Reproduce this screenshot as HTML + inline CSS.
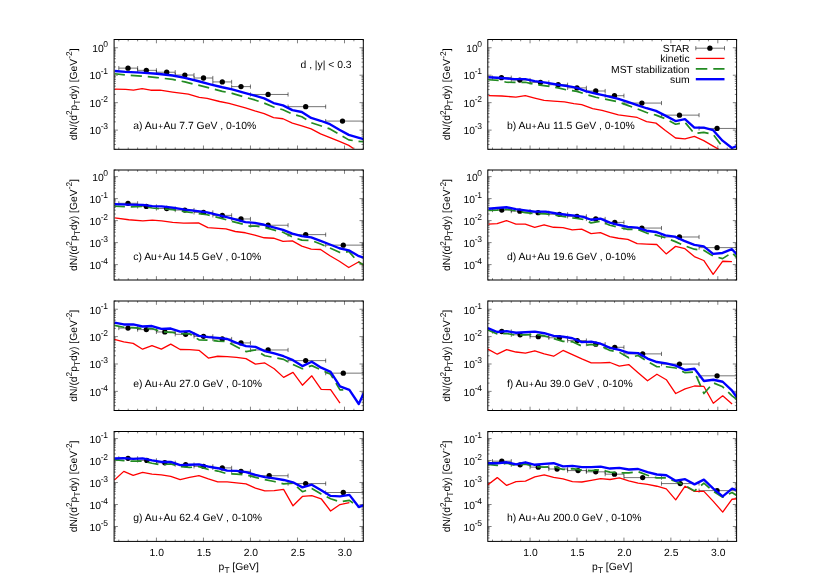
<!DOCTYPE html>
<html><head><meta charset="utf-8"><title>plot</title>
<style>html,body{margin:0;padding:0;background:#fff}body{width:830px;height:581px;overflow:hidden}</style></head>
<body>
<svg width="830" height="581" viewBox="0 0 830 581" style="display:block;will-change:transform;text-rendering:geometricPrecision;font-family:'Liberation Sans',sans-serif;font-size:10.35px" fill="#000">
<rect width="830" height="581" fill="#fff"/>
<defs>
<clipPath id="ca"><rect x="114.1" y="39.5" width="249.2" height="109.8"/></clipPath>
<clipPath id="cb"><rect x="487.8" y="39.5" width="248.8" height="109.8"/></clipPath>
<clipPath id="cc"><rect x="114.1" y="170" width="249.2" height="110"/></clipPath>
<clipPath id="cd"><rect x="487.8" y="170" width="248.8" height="110"/></clipPath>
<clipPath id="ce"><rect x="114.1" y="301" width="249.2" height="109.5"/></clipPath>
<clipPath id="cf"><rect x="487.8" y="301" width="248.8" height="109.5"/></clipPath>
<clipPath id="cg"><rect x="114.1" y="431.5" width="249.2" height="109.9"/></clipPath>
<clipPath id="ch"><rect x="487.8" y="431.5" width="248.8" height="109.9"/></clipPath>
</defs>
<g id="pa">
<path d="M118.8 149.3v-1.8M118.8 39.5v1.8M128.21 149.3v-1.8M128.21 39.5v1.8M137.61 149.3v-1.8M137.61 39.5v1.8M147.01 149.3v-1.8M147.01 39.5v1.8M156.42 149.3v-3.8M156.42 39.5v3.8M165.82 149.3v-1.8M165.82 39.5v1.8M175.22 149.3v-1.8M175.22 39.5v1.8M184.63 149.3v-1.8M184.63 39.5v1.8M194.03 149.3v-1.8M194.03 39.5v1.8M203.44 149.3v-3.8M203.44 39.5v3.8M212.84 149.3v-1.8M212.84 39.5v1.8M222.24 149.3v-1.8M222.24 39.5v1.8M231.65 149.3v-1.8M231.65 39.5v1.8M241.05 149.3v-1.8M241.05 39.5v1.8M250.45 149.3v-3.8M250.45 39.5v3.8M259.86 149.3v-1.8M259.86 39.5v1.8M269.26 149.3v-1.8M269.26 39.5v1.8M278.67 149.3v-1.8M278.67 39.5v1.8M288.07 149.3v-1.8M288.07 39.5v1.8M297.47 149.3v-3.8M297.47 39.5v3.8M306.88 149.3v-1.8M306.88 39.5v1.8M316.28 149.3v-1.8M316.28 39.5v1.8M325.68 149.3v-1.8M325.68 39.5v1.8M335.09 149.3v-1.8M335.09 39.5v1.8M344.49 149.3v-3.8M344.49 39.5v3.8M353.9 149.3v-1.8M353.9 39.5v1.8M363.3 149.3v-1.8M363.3 39.5v1.8M114.1 149.3h1.8M363.3 149.3h-1.8M114.1 144.47h1.8M363.3 144.47h-1.8M114.1 141.04h1.8M363.3 141.04h-1.8M114.1 138.38h1.8M363.3 138.38h-1.8M114.1 136.2h1.8M363.3 136.2h-1.8M114.1 134.37h1.8M363.3 134.37h-1.8M114.1 132.77h1.8M363.3 132.77h-1.8M114.1 131.37h1.8M363.3 131.37h-1.8M114.1 130.11h3.8M363.3 130.11h-3.8M114.1 121.85h1.8M363.3 121.85h-1.8M114.1 117.02h1.8M363.3 117.02h-1.8M114.1 113.59h1.8M363.3 113.59h-1.8M114.1 110.93h1.8M363.3 110.93h-1.8M114.1 108.75h1.8M363.3 108.75h-1.8M114.1 106.92h1.8M363.3 106.92h-1.8M114.1 105.32h1.8M363.3 105.32h-1.8M114.1 103.92h1.8M363.3 103.92h-1.8M114.1 102.66h3.8M363.3 102.66h-3.8M114.1 94.4h1.8M363.3 94.4h-1.8M114.1 89.57h1.8M363.3 89.57h-1.8M114.1 86.14h1.8M363.3 86.14h-1.8M114.1 83.48h1.8M363.3 83.48h-1.8M114.1 81.3h1.8M363.3 81.3h-1.8M114.1 79.47h1.8M363.3 79.47h-1.8M114.1 77.87h1.8M363.3 77.87h-1.8M114.1 76.47h1.8M363.3 76.47h-1.8M114.1 75.21h3.8M363.3 75.21h-3.8M114.1 66.95h1.8M363.3 66.95h-1.8M114.1 62.12h1.8M363.3 62.12h-1.8M114.1 58.69h1.8M363.3 58.69h-1.8M114.1 56.03h1.8M363.3 56.03h-1.8M114.1 53.85h1.8M363.3 53.85h-1.8M114.1 52.02h1.8M363.3 52.02h-1.8M114.1 50.42h1.8M363.3 50.42h-1.8M114.1 49.02h1.8M363.3 49.02h-1.8M114.1 47.76h3.8M363.3 47.76h-3.8M114.1 39.5h1.8M363.3 39.5h-1.8" stroke="#000" stroke-width="0.5" fill="none"/>
<g clip-path="url(#ca)" fill="none" stroke-linejoin="round">
<path d="M118.8 68.14h18.81M118.8 66.04v4.2M137.61 66.04v4.2M137.61 70.34h18.81M137.61 68.24v4.2M156.42 68.24v4.2M156.42 72.22h18.81M156.42 70.12v4.2M175.22 70.12v4.2M175.22 75.04h18.81M175.22 72.94v4.2M194.03 72.94v4.2M194.03 78.01h18.81M194.03 75.91v4.2M212.84 75.91v4.2M212.84 81.93h18.81M212.84 79.83v4.2M231.65 79.83v4.2M231.65 86.62h18.81M231.65 84.52v4.2M250.45 84.52v4.2M250.45 94.46h37.62M250.45 92.36v4.2M288.07 92.36v4.2M288.07 106.67h37.62M288.07 104.57v4.2M325.68 104.57v4.2M325.68 121.08h37.62M325.68 118.98v4.2M363.3 118.98v4.2" stroke="#000" stroke-width="0.55"/>
<circle cx="128.01" cy="68.14" r="2.65" fill="#000" stroke="none"/>
<circle cx="146.34" cy="70.34" r="2.65" fill="#000" stroke="none"/>
<circle cx="166.7" cy="72.22" r="2.65" fill="#000" stroke="none"/>
<circle cx="184.86" cy="75.04" r="2.65" fill="#000" stroke="none"/>
<circle cx="203.5" cy="78.01" r="2.65" fill="#000" stroke="none"/>
<circle cx="222.29" cy="81.93" r="2.65" fill="#000" stroke="none"/>
<circle cx="241.01" cy="86.62" r="2.65" fill="#000" stroke="none"/>
<circle cx="268.11" cy="94.46" r="2.65" fill="#000" stroke="none"/>
<circle cx="305.69" cy="106.67" r="2.65" fill="#000" stroke="none"/>
<circle cx="342.5" cy="121.08" r="2.65" fill="#000" stroke="none"/>
<path d="M114.7 89.13 L125.66 89.44 L133.49 90.07 L142.11 88.66 L150.72 90.23 L160.12 90.23 L172.65 92.11 L188.31 94.14 L199.27 97.27 L207.1 98.37 L219.63 101.5 L229.03 103.38 L245.4 107.77 L254.79 110.9 L264.19 113.56 L273.59 117.64 L282.99 118.73 L292.38 123.12 L301.78 125.78 L311.18 128.91 L320.57 133.92 L329.97 137.53 L339.37 141.44 L348.76 145.36 L353.46 148.49" stroke="#ff0000" stroke-width="1.3"/>
<path d="M114.7 73.78 L125.66 75.04 L141.32 76.13 L156.99 77.54 L172.65 79.42 L184.86 81.93 L197.71 85.06 L210.23 88.19 L222.29 91.32 L232.16 93.36 L245.4 97.27 L254.79 99.94 L264.19 103.07 L273.59 106.99 L282.99 109.8 L292.38 114.03 L301.78 116.7 L311.18 122.65 L320.57 125.78 L329.97 128.91 L339.37 134.39 L348.76 139.87 L358.16 141.44 L363.64 141.75" stroke="#228b22" stroke-width="1.7" stroke-dasharray="11.2 5.9" stroke-dashoffset="1"/>
<path d="M114.7 70.96 L125.66 71.9 L141.32 72.69 L156.99 73.78 L172.65 75.51 L184.86 77.85 L197.71 80.99 L210.23 84.28 L222.29 87.25 L232.16 89.44 L245.4 93.2 L254.79 95.71 L264.19 98.37 L273.59 103.07 L282.99 105.42 L292.38 110.12 L301.78 112 L311.18 117.95 L320.57 120.77 L329.97 124.21 L339.37 129.69 L348.76 134.86 L358.16 137.53 L363.64 139.09" stroke="#0000ff" stroke-width="2.35"/>
</g>
<rect x="114.1" y="39.5" width="249.2" height="109.8" fill="none" stroke="#000" stroke-width="1"/>
<text x="107.6" y="51.76" text-anchor="end">10<tspan dy="-4.9" dx="-0.5" font-size="8.5" letter-spacing="-0.3">0</tspan></text>
<text x="107.6" y="79.21" text-anchor="end">10<tspan dy="-4.9" dx="-0.5" font-size="8.5" letter-spacing="-0.3">-1</tspan></text>
<text x="107.6" y="106.66" text-anchor="end">10<tspan dy="-4.9" dx="-0.5" font-size="8.5" letter-spacing="-0.3">-2</tspan></text>
<text x="107.6" y="134.11" text-anchor="end">10<tspan dy="-4.9" dx="-0.5" font-size="8.5" letter-spacing="-0.3">-3</tspan></text>
<text transform="translate(76.6 94.4) rotate(-90)" text-anchor="middle">dN/(d<tspan dy="-4.6" font-size="8.3">2</tspan><tspan dy="4.6">p</tspan><tspan dy="3.1" font-size="8.3">T</tspan><tspan dy="-3.1">dy) [GeV</tspan><tspan dy="-4.6" font-size="8.3">-2</tspan><tspan dy="4.6">]</tspan></text>
<text x="133.2" y="129" font-size="10.42">a) Au<tspan font-size="8.2" dx="0.65" dy="-0.3">+</tspan><tspan dx="0.65" dy="0.3">Au</tspan> 7.7 GeV , 0-10%</text>
<text x="351.6" y="67.5" text-anchor="end">d , |y| &lt; 0.3</text>
</g>
<g id="pb">
<path d="M492.49 149.3v-1.8M492.49 39.5v1.8M501.88 149.3v-1.8M501.88 39.5v1.8M511.27 149.3v-1.8M511.27 39.5v1.8M520.66 149.3v-1.8M520.66 39.5v1.8M530.05 149.3v-3.8M530.05 39.5v3.8M539.44 149.3v-1.8M539.44 39.5v1.8M548.83 149.3v-1.8M548.83 39.5v1.8M558.22 149.3v-1.8M558.22 39.5v1.8M567.6 149.3v-1.8M567.6 39.5v1.8M576.99 149.3v-3.8M576.99 39.5v3.8M586.38 149.3v-1.8M586.38 39.5v1.8M595.77 149.3v-1.8M595.77 39.5v1.8M605.16 149.3v-1.8M605.16 39.5v1.8M614.55 149.3v-1.8M614.55 39.5v1.8M623.94 149.3v-3.8M623.94 39.5v3.8M633.32 149.3v-1.8M633.32 39.5v1.8M642.71 149.3v-1.8M642.71 39.5v1.8M652.1 149.3v-1.8M652.1 39.5v1.8M661.49 149.3v-1.8M661.49 39.5v1.8M670.88 149.3v-3.8M670.88 39.5v3.8M680.27 149.3v-1.8M680.27 39.5v1.8M689.66 149.3v-1.8M689.66 39.5v1.8M699.05 149.3v-1.8M699.05 39.5v1.8M708.43 149.3v-1.8M708.43 39.5v1.8M717.82 149.3v-3.8M717.82 39.5v3.8M727.21 149.3v-1.8M727.21 39.5v1.8M736.6 149.3v-1.8M736.6 39.5v1.8M487.8 149.3h1.8M736.6 149.3h-1.8M487.8 144.47h1.8M736.6 144.47h-1.8M487.8 141.04h1.8M736.6 141.04h-1.8M487.8 138.38h1.8M736.6 138.38h-1.8M487.8 136.2h1.8M736.6 136.2h-1.8M487.8 134.37h1.8M736.6 134.37h-1.8M487.8 132.77h1.8M736.6 132.77h-1.8M487.8 131.37h1.8M736.6 131.37h-1.8M487.8 130.11h3.8M736.6 130.11h-3.8M487.8 121.85h1.8M736.6 121.85h-1.8M487.8 117.02h1.8M736.6 117.02h-1.8M487.8 113.59h1.8M736.6 113.59h-1.8M487.8 110.93h1.8M736.6 110.93h-1.8M487.8 108.75h1.8M736.6 108.75h-1.8M487.8 106.92h1.8M736.6 106.92h-1.8M487.8 105.32h1.8M736.6 105.32h-1.8M487.8 103.92h1.8M736.6 103.92h-1.8M487.8 102.66h3.8M736.6 102.66h-3.8M487.8 94.4h1.8M736.6 94.4h-1.8M487.8 89.57h1.8M736.6 89.57h-1.8M487.8 86.14h1.8M736.6 86.14h-1.8M487.8 83.48h1.8M736.6 83.48h-1.8M487.8 81.3h1.8M736.6 81.3h-1.8M487.8 79.47h1.8M736.6 79.47h-1.8M487.8 77.87h1.8M736.6 77.87h-1.8M487.8 76.47h1.8M736.6 76.47h-1.8M487.8 75.21h3.8M736.6 75.21h-3.8M487.8 66.95h1.8M736.6 66.95h-1.8M487.8 62.12h1.8M736.6 62.12h-1.8M487.8 58.69h1.8M736.6 58.69h-1.8M487.8 56.03h1.8M736.6 56.03h-1.8M487.8 53.85h1.8M736.6 53.85h-1.8M487.8 52.02h1.8M736.6 52.02h-1.8M487.8 50.42h1.8M736.6 50.42h-1.8M487.8 49.02h1.8M736.6 49.02h-1.8M487.8 47.76h3.8M736.6 47.76h-3.8M487.8 39.5h1.8M736.6 39.5h-1.8" stroke="#000" stroke-width="0.5" fill="none"/>
<g clip-path="url(#cb)" fill="none" stroke-linejoin="round">
<path d="M492.49 77.7h18.78M492.49 75.6v4.2M511.27 75.6v4.2M511.27 80.05h18.78M511.27 77.95v4.2M530.05 77.95v4.2M530.05 82.4h18.78M530.05 80.3v4.2M548.83 80.3v4.2M548.83 84.75h18.78M548.83 82.65v4.2M567.6 82.65v4.2M567.6 87.88h18.78M567.6 85.78v4.2M586.38 85.78v4.2M586.38 91.01h18.78M586.38 88.91v4.2M605.16 88.91v4.2M605.16 95.71h18.78M605.16 93.61v4.2M623.94 93.61v4.2M623.94 103.07h37.55M623.94 100.97v4.2M661.49 100.97v4.2M661.49 115.13h37.55M661.49 113.03v4.2M699.05 113.03v4.2M699.05 128.44h37.55M699.05 126.34v4.2M736.6 126.34v4.2" stroke="#000" stroke-width="0.55"/>
<circle cx="501.48" cy="77.7" r="2.65" fill="#000" stroke="none"/>
<circle cx="519.81" cy="80.05" r="2.65" fill="#000" stroke="none"/>
<circle cx="540.48" cy="82.4" r="2.65" fill="#000" stroke="none"/>
<circle cx="558.18" cy="84.75" r="2.65" fill="#000" stroke="none"/>
<circle cx="576.97" cy="87.88" r="2.65" fill="#000" stroke="none"/>
<circle cx="595.76" cy="91.01" r="2.65" fill="#000" stroke="none"/>
<circle cx="614.48" cy="95.71" r="2.65" fill="#000" stroke="none"/>
<circle cx="641.89" cy="103.07" r="2.65" fill="#000" stroke="none"/>
<circle cx="679.48" cy="115.13" r="2.65" fill="#000" stroke="none"/>
<circle cx="717.07" cy="128.44" r="2.65" fill="#000" stroke="none"/>
<path d="M488.48 95.71 L501.79 96.02 L515.89 97.12 L525.29 95.71 L534.68 98.06 L544.08 100.41 L553.48 101.03 L564.44 101.97 L573.84 103.54 L581.67 104.64 L592.63 108.55 L602.03 110.43 L618.4 114.82 L627.79 116.07 L637.19 117.48 L646.59 121.55 L655.99 123.12 L665.38 130.48 L675.56 138 L684.96 138.78 L694.36 136.43 L703.75 140.66 L713.15 146.14 L718.63 149.27" stroke="#ff0000" stroke-width="1.3"/>
<path d="M488.48 79.73 L498.66 80.36 L506.49 82.24 L514.32 82.4 L525.29 82.24 L534.68 84.28 L545.65 85.84 L558.18 87.88 L566.01 89.76 L576.97 91.32 L586.37 94.46 L595.76 97.27 L605.16 99.15 L618.4 101.97 L627.79 105.42 L637.19 108.86 L646.59 112.47 L655.99 115.13 L665.38 118.73 L675.56 124.21 L684.96 122.33 L694.36 133.61 L703.75 132.36 L713.15 134.39 L722.55 146.92" stroke="#228b22" stroke-width="1.7" stroke-dasharray="11.2 5.9" stroke-dashoffset="1"/>
<path d="M488.48 77.23 L501.48 78.01 L514.32 79.11 L525.29 79.11 L534.68 81.14 L545.65 82.71 L558.18 84.75 L570.71 86.62 L576.97 87.88 L586.37 91.32 L595.76 93.67 L605.16 95.71 L618.4 98.84 L627.79 101.97 L637.19 105.11 L646.59 108.24 L655.99 110.9 L665.38 115.6 L675.56 121.08 L684.96 119.2 L694.36 127.66 L703.75 127.66 L713.15 130.16 L722.55 140.66 L731.94 148.02 L736.64 146.14" stroke="#0000ff" stroke-width="2.35"/>
</g>
<rect x="487.8" y="39.5" width="248.8" height="109.8" fill="none" stroke="#000" stroke-width="1"/>
<text x="481.6" y="51.76" text-anchor="end">10<tspan dy="-4.9" dx="-0.5" font-size="8.5" letter-spacing="-0.3">0</tspan></text>
<text x="481.6" y="79.21" text-anchor="end">10<tspan dy="-4.9" dx="-0.5" font-size="8.5" letter-spacing="-0.3">-1</tspan></text>
<text x="481.6" y="106.66" text-anchor="end">10<tspan dy="-4.9" dx="-0.5" font-size="8.5" letter-spacing="-0.3">-2</tspan></text>
<text x="481.6" y="134.11" text-anchor="end">10<tspan dy="-4.9" dx="-0.5" font-size="8.5" letter-spacing="-0.3">-3</tspan></text>
<text transform="translate(450.3 94.4) rotate(-90)" text-anchor="middle">dN/(d<tspan dy="-4.6" font-size="8.3">2</tspan><tspan dy="4.6">p</tspan><tspan dy="3.1" font-size="8.3">T</tspan><tspan dy="-3.1">dy) [GeV</tspan><tspan dy="-4.6" font-size="8.3">-2</tspan><tspan dy="4.6">]</tspan></text>
<text x="506.9" y="129" font-size="10.42">b) Au<tspan font-size="8.2" dx="0.65" dy="-0.3">+</tspan><tspan dx="0.65" dy="0.3">Au</tspan> 11.5 GeV , 0-10%</text>
<text x="689.6" y="51.9" text-anchor="end">STAR</text>
<text x="689.6" y="62.1" text-anchor="end">kinetic</text>
<text x="689.6" y="72.55" text-anchor="end">MST stabilization</text>
<text x="689.6" y="82.9" text-anchor="end">sum</text>
<path d="M695.8 48.2H724.5M695.8 46.1v4.2M724.5 46.1v4.2" stroke="#000" stroke-width="0.55" fill="none"/>
<circle cx="709.9" cy="48.2" r="2.65"/>
<path d="M695.8 58.4H724.5" stroke="#ff0000" stroke-width="1.3"/>
<path d="M695.8 68.85H724.5" stroke="#228b22" stroke-width="1.7" stroke-dasharray="11.5 6"/>
<path d="M695.8 79.2H724.5" stroke="#0000ff" stroke-width="2.35"/>
</g>
<g id="pc">
<path d="M118.8 280v-1.8M118.8 170v1.8M128.21 280v-1.8M128.21 170v1.8M137.61 280v-1.8M137.61 170v1.8M147.01 280v-1.8M147.01 170v1.8M156.42 280v-3.8M156.42 170v3.8M165.82 280v-1.8M165.82 170v1.8M175.22 280v-1.8M175.22 170v1.8M184.63 280v-1.8M184.63 170v1.8M194.03 280v-1.8M194.03 170v1.8M203.44 280v-3.8M203.44 170v3.8M212.84 280v-1.8M212.84 170v1.8M222.24 280v-1.8M222.24 170v1.8M231.65 280v-1.8M231.65 170v1.8M241.05 280v-1.8M241.05 170v1.8M250.45 280v-3.8M250.45 170v3.8M259.86 280v-1.8M259.86 170v1.8M269.26 280v-1.8M269.26 170v1.8M278.67 280v-1.8M278.67 170v1.8M288.07 280v-1.8M288.07 170v1.8M297.47 280v-3.8M297.47 170v3.8M306.88 280v-1.8M306.88 170v1.8M316.28 280v-1.8M316.28 170v1.8M325.68 280v-1.8M325.68 170v1.8M335.09 280v-1.8M335.09 170v1.8M344.49 280v-3.8M344.49 170v3.8M353.9 280v-1.8M353.9 170v1.8M363.3 280v-1.8M363.3 170v1.8M114.1 280h1.8M363.3 280h-1.8M114.1 276.13h1.8M363.3 276.13h-1.8M114.1 273.38h1.8M363.3 273.38h-1.8M114.1 271.25h1.8M363.3 271.25h-1.8M114.1 269.5h1.8M363.3 269.5h-1.8M114.1 268.03h1.8M363.3 268.03h-1.8M114.1 266.75h1.8M363.3 266.75h-1.8M114.1 265.63h1.8M363.3 265.63h-1.8M114.1 264.62h3.8M363.3 264.62h-3.8M114.1 258h1.8M363.3 258h-1.8M114.1 254.13h1.8M363.3 254.13h-1.8M114.1 251.38h1.8M363.3 251.38h-1.8M114.1 249.25h1.8M363.3 249.25h-1.8M114.1 247.5h1.8M363.3 247.5h-1.8M114.1 246.03h1.8M363.3 246.03h-1.8M114.1 244.75h1.8M363.3 244.75h-1.8M114.1 243.63h1.8M363.3 243.63h-1.8M114.1 242.62h3.8M363.3 242.62h-3.8M114.1 236h1.8M363.3 236h-1.8M114.1 232.13h1.8M363.3 232.13h-1.8M114.1 229.38h1.8M363.3 229.38h-1.8M114.1 227.25h1.8M363.3 227.25h-1.8M114.1 225.5h1.8M363.3 225.5h-1.8M114.1 224.03h1.8M363.3 224.03h-1.8M114.1 222.75h1.8M363.3 222.75h-1.8M114.1 221.63h1.8M363.3 221.63h-1.8M114.1 220.62h3.8M363.3 220.62h-3.8M114.1 214h1.8M363.3 214h-1.8M114.1 210.13h1.8M363.3 210.13h-1.8M114.1 207.38h1.8M363.3 207.38h-1.8M114.1 205.25h1.8M363.3 205.25h-1.8M114.1 203.5h1.8M363.3 203.5h-1.8M114.1 202.03h1.8M363.3 202.03h-1.8M114.1 200.75h1.8M363.3 200.75h-1.8M114.1 199.63h1.8M363.3 199.63h-1.8M114.1 198.62h3.8M363.3 198.62h-3.8M114.1 192h1.8M363.3 192h-1.8M114.1 188.13h1.8M363.3 188.13h-1.8M114.1 185.38h1.8M363.3 185.38h-1.8M114.1 183.25h1.8M363.3 183.25h-1.8M114.1 181.5h1.8M363.3 181.5h-1.8M114.1 180.03h1.8M363.3 180.03h-1.8M114.1 178.75h1.8M363.3 178.75h-1.8M114.1 177.63h1.8M363.3 177.63h-1.8M114.1 176.62h3.8M363.3 176.62h-3.8M114.1 170h1.8M363.3 170h-1.8" stroke="#000" stroke-width="0.5" fill="none"/>
<g clip-path="url(#cc)" fill="none" stroke-linejoin="round">
<path d="M118.8 203.31h18.81M118.8 201.21v4.2M137.61 201.21v4.2M137.61 206.44h18.81M137.61 204.34v4.2M156.42 204.34v4.2M156.42 208.48h18.81M156.42 206.38v4.2M175.22 206.38v4.2M175.22 210.05h18.81M175.22 207.95v4.2M194.03 207.95v4.2M194.03 212.4h18.81M194.03 210.3v4.2M212.84 210.3v4.2M212.84 215.37h18.81M212.84 213.27v4.2M231.65 213.27v4.2M231.65 218.97h18.81M231.65 216.87v4.2M250.45 216.87v4.2M250.45 225.24h37.62M250.45 223.14v4.2M288.07 223.14v4.2M288.07 234.64h37.62M288.07 232.54v4.2M325.68 232.54v4.2M325.68 245.13h37.62M325.68 243.03v4.2M363.3 243.03v4.2" stroke="#000" stroke-width="0.55"/>
<circle cx="128.01" cy="203.31" r="2.65" fill="#000" stroke="none"/>
<circle cx="146.34" cy="206.44" r="2.65" fill="#000" stroke="none"/>
<circle cx="166.7" cy="208.48" r="2.65" fill="#000" stroke="none"/>
<circle cx="184.86" cy="210.05" r="2.65" fill="#000" stroke="none"/>
<circle cx="203.5" cy="212.4" r="2.65" fill="#000" stroke="none"/>
<circle cx="222.29" cy="215.37" r="2.65" fill="#000" stroke="none"/>
<circle cx="241.01" cy="218.97" r="2.65" fill="#000" stroke="none"/>
<circle cx="268.11" cy="225.24" r="2.65" fill="#000" stroke="none"/>
<circle cx="305.69" cy="234.64" r="2.65" fill="#000" stroke="none"/>
<circle cx="343.28" cy="245.13" r="2.65" fill="#000" stroke="none"/>
<path d="M114.7 217.88 L128.79 219.76 L142.89 220.85 L152.29 220.07 L161.68 220.85 L172.65 222.42 L183.61 223.2 L198.49 222.89 L207.89 227.59 L218.07 228.37 L225.9 228.84 L235.29 231.5 L245.4 232.76 L254.79 235.11 L264.19 237.77 L273.59 238.24 L282.99 241.37 L292.38 240.9 L301.78 246.07 L311.18 249.2 L320.57 249.51 L329.97 255.78 L339.37 261.26 L348.76 267.53 L358.94 261.73 L363.64 265.18" stroke="#ff0000" stroke-width="1.3"/>
<path d="M114.7 206.13 L128.01 206.91 L142.89 206.44 L152.29 208.01 L161.68 208.79 L172.65 209.58 L184.86 211.61 L197.71 213.49 L207.1 214.75 L219.63 217.88 L230.6 221.01 L245.4 224.77 L250.1 226.34 L254.79 226.02 L264.19 227.27 L273.59 229.94 L282.99 232.29 L292.38 236.99 L301.78 240.12 L311.18 240.43 L320.57 244.03 L329.97 247.95 L339.37 252.33 L344.07 252.65 L348.76 251.39 L358.16 262.04 L363.64 264.86" stroke="#228b22" stroke-width="1.7" stroke-dasharray="11.2 5.9" stroke-dashoffset="1"/>
<path d="M114.7 204.1 L128.01 204.57 L142.89 204.88 L152.29 206.13 L161.68 206.44 L172.65 207.7 L184.86 209.58 L197.71 211.14 L207.1 212.4 L219.63 215.37 L230.6 218.19 L245.4 222.11 L254.79 222.89 L264.19 224.77 L273.59 227.27 L282.99 229.94 L292.38 233.54 L301.78 236.2 L311.18 237.45 L320.57 240.9 L329.97 244.5 L339.37 248.26 L348.76 250.3 L358.16 255.78 L363.64 257.66" stroke="#0000ff" stroke-width="2.35"/>
</g>
<rect x="114.1" y="170" width="249.2" height="110" fill="none" stroke="#000" stroke-width="1"/>
<text x="107.6" y="180.62" text-anchor="end">10<tspan dy="-4.9" dx="-0.5" font-size="8.5" letter-spacing="-0.3">0</tspan></text>
<text x="107.6" y="202.62" text-anchor="end">10<tspan dy="-4.9" dx="-0.5" font-size="8.5" letter-spacing="-0.3">-1</tspan></text>
<text x="107.6" y="224.62" text-anchor="end">10<tspan dy="-4.9" dx="-0.5" font-size="8.5" letter-spacing="-0.3">-2</tspan></text>
<text x="107.6" y="246.62" text-anchor="end">10<tspan dy="-4.9" dx="-0.5" font-size="8.5" letter-spacing="-0.3">-3</tspan></text>
<text x="107.6" y="268.62" text-anchor="end">10<tspan dy="-4.9" dx="-0.5" font-size="8.5" letter-spacing="-0.3">-4</tspan></text>
<text transform="translate(76.6 225) rotate(-90)" text-anchor="middle">dN/(d<tspan dy="-4.6" font-size="8.3">2</tspan><tspan dy="4.6">p</tspan><tspan dy="3.1" font-size="8.3">T</tspan><tspan dy="-3.1">dy) [GeV</tspan><tspan dy="-4.6" font-size="8.3">-2</tspan><tspan dy="4.6">]</tspan></text>
<text x="133.2" y="259.5" font-size="10.42">c) Au<tspan font-size="8.2" dx="0.65" dy="-0.3">+</tspan><tspan dx="0.65" dy="0.3">Au</tspan> 14.5 GeV , 0-10%</text>
</g>
<g id="pd">
<path d="M492.49 280v-1.8M492.49 170v1.8M501.88 280v-1.8M501.88 170v1.8M511.27 280v-1.8M511.27 170v1.8M520.66 280v-1.8M520.66 170v1.8M530.05 280v-3.8M530.05 170v3.8M539.44 280v-1.8M539.44 170v1.8M548.83 280v-1.8M548.83 170v1.8M558.22 280v-1.8M558.22 170v1.8M567.6 280v-1.8M567.6 170v1.8M576.99 280v-3.8M576.99 170v3.8M586.38 280v-1.8M586.38 170v1.8M595.77 280v-1.8M595.77 170v1.8M605.16 280v-1.8M605.16 170v1.8M614.55 280v-1.8M614.55 170v1.8M623.94 280v-3.8M623.94 170v3.8M633.32 280v-1.8M633.32 170v1.8M642.71 280v-1.8M642.71 170v1.8M652.1 280v-1.8M652.1 170v1.8M661.49 280v-1.8M661.49 170v1.8M670.88 280v-3.8M670.88 170v3.8M680.27 280v-1.8M680.27 170v1.8M689.66 280v-1.8M689.66 170v1.8M699.05 280v-1.8M699.05 170v1.8M708.43 280v-1.8M708.43 170v1.8M717.82 280v-3.8M717.82 170v3.8M727.21 280v-1.8M727.21 170v1.8M736.6 280v-1.8M736.6 170v1.8M487.8 280h1.8M736.6 280h-1.8M487.8 276.13h1.8M736.6 276.13h-1.8M487.8 273.38h1.8M736.6 273.38h-1.8M487.8 271.25h1.8M736.6 271.25h-1.8M487.8 269.5h1.8M736.6 269.5h-1.8M487.8 268.03h1.8M736.6 268.03h-1.8M487.8 266.75h1.8M736.6 266.75h-1.8M487.8 265.63h1.8M736.6 265.63h-1.8M487.8 264.62h3.8M736.6 264.62h-3.8M487.8 258h1.8M736.6 258h-1.8M487.8 254.13h1.8M736.6 254.13h-1.8M487.8 251.38h1.8M736.6 251.38h-1.8M487.8 249.25h1.8M736.6 249.25h-1.8M487.8 247.5h1.8M736.6 247.5h-1.8M487.8 246.03h1.8M736.6 246.03h-1.8M487.8 244.75h1.8M736.6 244.75h-1.8M487.8 243.63h1.8M736.6 243.63h-1.8M487.8 242.62h3.8M736.6 242.62h-3.8M487.8 236h1.8M736.6 236h-1.8M487.8 232.13h1.8M736.6 232.13h-1.8M487.8 229.38h1.8M736.6 229.38h-1.8M487.8 227.25h1.8M736.6 227.25h-1.8M487.8 225.5h1.8M736.6 225.5h-1.8M487.8 224.03h1.8M736.6 224.03h-1.8M487.8 222.75h1.8M736.6 222.75h-1.8M487.8 221.63h1.8M736.6 221.63h-1.8M487.8 220.62h3.8M736.6 220.62h-3.8M487.8 214h1.8M736.6 214h-1.8M487.8 210.13h1.8M736.6 210.13h-1.8M487.8 207.38h1.8M736.6 207.38h-1.8M487.8 205.25h1.8M736.6 205.25h-1.8M487.8 203.5h1.8M736.6 203.5h-1.8M487.8 202.03h1.8M736.6 202.03h-1.8M487.8 200.75h1.8M736.6 200.75h-1.8M487.8 199.63h1.8M736.6 199.63h-1.8M487.8 198.62h3.8M736.6 198.62h-3.8M487.8 192h1.8M736.6 192h-1.8M487.8 188.13h1.8M736.6 188.13h-1.8M487.8 185.38h1.8M736.6 185.38h-1.8M487.8 183.25h1.8M736.6 183.25h-1.8M487.8 181.5h1.8M736.6 181.5h-1.8M487.8 180.03h1.8M736.6 180.03h-1.8M487.8 178.75h1.8M736.6 178.75h-1.8M487.8 177.63h1.8M736.6 177.63h-1.8M487.8 176.62h3.8M736.6 176.62h-3.8M487.8 170h1.8M736.6 170h-1.8" stroke="#000" stroke-width="0.5" fill="none"/>
<g clip-path="url(#cd)" fill="none" stroke-linejoin="round">
<path d="M492.49 210.05h18.78M492.49 207.95v4.2M511.27 207.95v4.2M511.27 211.14h18.78M511.27 209.04v4.2M530.05 209.04v4.2M530.05 212.71h18.78M530.05 210.61v4.2M548.83 210.61v4.2M548.83 214.28h18.78M548.83 212.18v4.2M567.6 212.18v4.2M567.6 216.31h18.78M567.6 214.21v4.2M586.38 214.21v4.2M586.38 218.97h18.78M586.38 216.87v4.2M605.16 216.87v4.2M605.16 222.42h18.78M605.16 220.32v4.2M623.94 220.32v4.2M623.94 228.06h37.55M623.94 225.96v4.2M661.49 225.96v4.2M661.49 236.99h37.55M661.49 234.89v4.2M699.05 234.89v4.2M699.05 247.64h37.55M699.05 245.54v4.2M736.6 245.54v4.2" stroke="#000" stroke-width="0.55"/>
<circle cx="501.79" cy="210.05" r="2.65" fill="#000" stroke="none"/>
<circle cx="519.81" cy="211.14" r="2.65" fill="#000" stroke="none"/>
<circle cx="538.13" cy="212.71" r="2.65" fill="#000" stroke="none"/>
<circle cx="559.43" cy="214.28" r="2.65" fill="#000" stroke="none"/>
<circle cx="576.97" cy="216.31" r="2.65" fill="#000" stroke="none"/>
<circle cx="595.76" cy="218.97" r="2.65" fill="#000" stroke="none"/>
<circle cx="614.79" cy="222.42" r="2.65" fill="#000" stroke="none"/>
<circle cx="641.89" cy="228.06" r="2.65" fill="#000" stroke="none"/>
<circle cx="679.48" cy="236.99" r="2.65" fill="#000" stroke="none"/>
<circle cx="717.07" cy="247.64" r="2.65" fill="#000" stroke="none"/>
<path d="M488.48 224.14 L497.1 223.67 L506.49 220.54 L515.89 224.14 L525.29 224.14 L534.68 227.27 L544.08 224.77 L553.48 227.27 L562.87 227.59 L572.27 229.94 L581.67 229.15 L591.07 233.54 L600.46 232.6 L609.86 236.67 L618.4 238.24 L627.79 239.33 L637.19 243.56 L646.59 244.03 L656.77 244.5 L666.17 253.9 L675.56 246.38 L684.96 248.73 L694.36 256.56 L703.75 260.48 L713.15 274.26 L722.55 261.26 L731.94 261.57" stroke="#ff0000" stroke-width="1.3"/>
<path d="M488.48 210.36 L497.1 210.05 L506.49 209.26 L515.89 210.83 L525.29 212.71 L534.68 213.49 L545.65 213.96 L556.61 215.37 L566.01 216.94 L576.97 218.5 L583.23 219.44 L591.07 222.89 L600.46 221.32 L609.86 225.24 L618.4 227.27 L627.79 229.47 L637.19 229.15 L646.59 233.07 L655.99 235.11 L665.38 237.77 L674.78 241.37 L684.18 245.6 L694.36 249.2 L703.75 250.3 L713.15 256.09 L722.55 258.6 L731.94 252.65 L736.64 257.35" stroke="#228b22" stroke-width="1.7" stroke-dasharray="11.2 5.9" stroke-dashoffset="1"/>
<path d="M488.48 208.79 L497.1 208.01 L506.49 207.23 L515.89 209.11 L525.29 210.36 L534.68 211.61 L545.65 211.61 L556.61 213.49 L566.01 214.75 L576.97 215.84 L583.23 216.94 L591.07 219.76 L600.46 218.66 L609.86 222.58 L618.4 224.77 L627.79 226.81 L637.19 227.59 L646.59 230.72 L655.99 231.97 L665.38 235.42 L674.78 236.67 L684.18 240.9 L694.36 244.82 L703.75 246.38 L713.15 253.9 L722.55 252.96 L731.94 249.2 L736.64 254.21" stroke="#0000ff" stroke-width="2.35"/>
</g>
<rect x="487.8" y="170" width="248.8" height="110" fill="none" stroke="#000" stroke-width="1"/>
<text x="481.6" y="180.62" text-anchor="end">10<tspan dy="-4.9" dx="-0.5" font-size="8.5" letter-spacing="-0.3">0</tspan></text>
<text x="481.6" y="202.62" text-anchor="end">10<tspan dy="-4.9" dx="-0.5" font-size="8.5" letter-spacing="-0.3">-1</tspan></text>
<text x="481.6" y="224.62" text-anchor="end">10<tspan dy="-4.9" dx="-0.5" font-size="8.5" letter-spacing="-0.3">-2</tspan></text>
<text x="481.6" y="246.62" text-anchor="end">10<tspan dy="-4.9" dx="-0.5" font-size="8.5" letter-spacing="-0.3">-3</tspan></text>
<text x="481.6" y="268.62" text-anchor="end">10<tspan dy="-4.9" dx="-0.5" font-size="8.5" letter-spacing="-0.3">-4</tspan></text>
<text transform="translate(450.3 225) rotate(-90)" text-anchor="middle">dN/(d<tspan dy="-4.6" font-size="8.3">2</tspan><tspan dy="4.6">p</tspan><tspan dy="3.1" font-size="8.3">T</tspan><tspan dy="-3.1">dy) [GeV</tspan><tspan dy="-4.6" font-size="8.3">-2</tspan><tspan dy="4.6">]</tspan></text>
<text x="506.9" y="259.5" font-size="10.42">d) Au<tspan font-size="8.2" dx="0.65" dy="-0.3">+</tspan><tspan dx="0.65" dy="0.3">Au</tspan> 19.6 GeV , 0-10%</text>
</g>
<g id="pe">
<path d="M118.8 410.5v-1.8M118.8 301v1.8M128.21 410.5v-1.8M128.21 301v1.8M137.61 410.5v-1.8M137.61 301v1.8M147.01 410.5v-1.8M147.01 301v1.8M156.42 410.5v-3.8M156.42 301v3.8M165.82 410.5v-1.8M165.82 301v1.8M175.22 410.5v-1.8M175.22 301v1.8M184.63 410.5v-1.8M184.63 301v1.8M194.03 410.5v-1.8M194.03 301v1.8M203.44 410.5v-3.8M203.44 301v3.8M212.84 410.5v-1.8M212.84 301v1.8M222.24 410.5v-1.8M222.24 301v1.8M231.65 410.5v-1.8M231.65 301v1.8M241.05 410.5v-1.8M241.05 301v1.8M250.45 410.5v-3.8M250.45 301v3.8M259.86 410.5v-1.8M259.86 301v1.8M269.26 410.5v-1.8M269.26 301v1.8M278.67 410.5v-1.8M278.67 301v1.8M288.07 410.5v-1.8M288.07 301v1.8M297.47 410.5v-3.8M297.47 301v3.8M306.88 410.5v-1.8M306.88 301v1.8M316.28 410.5v-1.8M316.28 301v1.8M325.68 410.5v-1.8M325.68 301v1.8M335.09 410.5v-1.8M335.09 301v1.8M344.49 410.5v-3.8M344.49 301v3.8M353.9 410.5v-1.8M353.9 301v1.8M363.3 410.5v-1.8M363.3 301v1.8M114.1 410.5h1.8M363.3 410.5h-1.8M114.1 405.68h1.8M363.3 405.68h-1.8M114.1 402.26h1.8M363.3 402.26h-1.8M114.1 399.61h1.8M363.3 399.61h-1.8M114.1 397.44h1.8M363.3 397.44h-1.8M114.1 395.61h1.8M363.3 395.61h-1.8M114.1 394.02h1.8M363.3 394.02h-1.8M114.1 392.62h1.8M363.3 392.62h-1.8M114.1 391.37h3.8M363.3 391.37h-3.8M114.1 383.12h1.8M363.3 383.12h-1.8M114.1 378.3h1.8M363.3 378.3h-1.8M114.1 374.88h1.8M363.3 374.88h-1.8M114.1 372.23h1.8M363.3 372.23h-1.8M114.1 370.06h1.8M363.3 370.06h-1.8M114.1 368.23h1.8M363.3 368.23h-1.8M114.1 366.64h1.8M363.3 366.64h-1.8M114.1 365.24h1.8M363.3 365.24h-1.8M114.1 363.99h3.8M363.3 363.99h-3.8M114.1 355.75h1.8M363.3 355.75h-1.8M114.1 350.93h1.8M363.3 350.93h-1.8M114.1 347.51h1.8M363.3 347.51h-1.8M114.1 344.86h1.8M363.3 344.86h-1.8M114.1 342.69h1.8M363.3 342.69h-1.8M114.1 340.86h1.8M363.3 340.86h-1.8M114.1 339.27h1.8M363.3 339.27h-1.8M114.1 337.87h1.8M363.3 337.87h-1.8M114.1 336.62h3.8M363.3 336.62h-3.8M114.1 328.38h1.8M363.3 328.38h-1.8M114.1 323.55h1.8M363.3 323.55h-1.8M114.1 320.13h1.8M363.3 320.13h-1.8M114.1 317.48h1.8M363.3 317.48h-1.8M114.1 315.31h1.8M363.3 315.31h-1.8M114.1 313.48h1.8M363.3 313.48h-1.8M114.1 311.89h1.8M363.3 311.89h-1.8M114.1 310.49h1.8M363.3 310.49h-1.8M114.1 309.24h3.8M363.3 309.24h-3.8M114.1 301h1.8M363.3 301h-1.8" stroke="#000" stroke-width="0.5" fill="none"/>
<g clip-path="url(#ce)" fill="none" stroke-linejoin="round">
<path d="M118.8 328.05h18.81M118.8 325.95v4.2M137.61 325.95v4.2M137.61 329.61h18.81M137.61 327.51v4.2M156.42 327.51v4.2M156.42 331.96h18.81M156.42 329.86v4.2M175.22 329.86v4.2M175.22 334.31h18.81M175.22 332.21v4.2M194.03 332.21v4.2M194.03 336.35h18.81M194.03 334.25v4.2M212.84 334.25v4.2M212.84 339.01h18.81M212.84 336.91v4.2M231.65 336.91v4.2M231.65 342.93h18.81M231.65 340.83v4.2M250.45 340.83v4.2M250.45 349.97h37.62M250.45 347.87v4.2M288.07 347.87v4.2M288.07 360.62h37.62M288.07 358.52v4.2M325.68 358.52v4.2M325.68 373.15h37.62M325.68 371.05v4.2M363.3 371.05v4.2" stroke="#000" stroke-width="0.55"/>
<circle cx="128.01" cy="328.05" r="2.65" fill="#000" stroke="none"/>
<circle cx="146.34" cy="329.61" r="2.65" fill="#000" stroke="none"/>
<circle cx="164.82" cy="331.96" r="2.65" fill="#000" stroke="none"/>
<circle cx="185.65" cy="334.31" r="2.65" fill="#000" stroke="none"/>
<circle cx="203.5" cy="336.35" r="2.65" fill="#000" stroke="none"/>
<circle cx="222.29" cy="339.01" r="2.65" fill="#000" stroke="none"/>
<circle cx="241.01" cy="342.93" r="2.65" fill="#000" stroke="none"/>
<circle cx="268.11" cy="349.97" r="2.65" fill="#000" stroke="none"/>
<circle cx="305.69" cy="360.62" r="2.65" fill="#000" stroke="none"/>
<circle cx="343.28" cy="373.15" r="2.65" fill="#000" stroke="none"/>
<path d="M114.39 339.48 L123.78 341.83 L133.18 343.4 L142.58 349.19 L151.97 345.59 L161.37 349.19 L170.77 344.18 L180.16 349.5 L189.56 349.66 L198.96 350.29 L208.36 358.12 L217.75 356.24 L227.15 356.55 L236.55 357.34 L246.02 358.59 L255.42 364.07 L264.82 362.97 L274.21 368.77 L283.61 377.38 L293.01 372.37 L302.41 385.21 L311.8 375.82 L321.2 389.44 L330.6 389.6 L339.99 403.22" stroke="#ff0000" stroke-width="1.3"/>
<path d="M114.39 325.39 L123.78 327.26 L133.18 327.58 L142.58 328.52 L151.97 328.52 L161.37 331.65 L170.77 332.28 L180.16 333.53 L189.56 333.84 L198.96 339.79 L208.36 340.11 L217.75 341.05 L227.15 341.67 L236.55 346.84 L246.02 351.54 L255.42 349.97 L264.82 355.77 L274.21 357.49 L283.61 359.37 L293.01 364.54 L302.41 368.77 L311.8 365.64 L321.2 370.02 L330.6 374.25 L339.99 389.91 L349.39 389.91" stroke="#228b22" stroke-width="1.7" stroke-dasharray="11.2 5.9" stroke-dashoffset="1"/>
<path d="M114.39 322.57 L123.78 324.45 L133.18 324.45 L142.58 326.48 L151.97 326.01 L161.37 328.83 L170.77 328.52 L180.16 331.65 L189.56 331.18 L198.96 335.88 L208.36 337.13 L217.75 337.91 L227.15 339.01 L236.55 342.93 L246.02 346.06 L255.42 346.84 L264.82 351.07 L274.21 353.42 L283.61 356.24 L293.01 360.15 L302.41 366.11 L311.8 361.72 L321.2 367.67 L330.6 371.9 L339.99 386.47 L349.39 389.91 L358.79 404.01 L363.64 393.36" stroke="#0000ff" stroke-width="2.35"/>
</g>
<rect x="114.1" y="301" width="249.2" height="109.5" fill="none" stroke="#000" stroke-width="1"/>
<text x="107.6" y="313.54" text-anchor="end">10<tspan dy="-4.9" dx="-0.5" font-size="8.5" letter-spacing="-0.3">-1</tspan></text>
<text x="107.6" y="340.92" text-anchor="end">10<tspan dy="-4.9" dx="-0.5" font-size="8.5" letter-spacing="-0.3">-2</tspan></text>
<text x="107.6" y="368.29" text-anchor="end">10<tspan dy="-4.9" dx="-0.5" font-size="8.5" letter-spacing="-0.3">-3</tspan></text>
<text x="107.6" y="395.67" text-anchor="end">10<tspan dy="-4.9" dx="-0.5" font-size="8.5" letter-spacing="-0.3">-4</tspan></text>
<text transform="translate(76.6 355.75) rotate(-90)" text-anchor="middle">dN/(d<tspan dy="-4.6" font-size="8.3">2</tspan><tspan dy="4.6">p</tspan><tspan dy="3.1" font-size="8.3">T</tspan><tspan dy="-3.1">dy) [GeV</tspan><tspan dy="-4.6" font-size="8.3">-2</tspan><tspan dy="4.6">]</tspan></text>
<text x="133.2" y="387.4" font-size="10.42">e) Au<tspan font-size="8.2" dx="0.65" dy="-0.3">+</tspan><tspan dx="0.65" dy="0.3">Au</tspan> 27.0 GeV , 0-10%</text>
</g>
<g id="pf">
<path d="M492.49 410.5v-1.8M492.49 301v1.8M501.88 410.5v-1.8M501.88 301v1.8M511.27 410.5v-1.8M511.27 301v1.8M520.66 410.5v-1.8M520.66 301v1.8M530.05 410.5v-3.8M530.05 301v3.8M539.44 410.5v-1.8M539.44 301v1.8M548.83 410.5v-1.8M548.83 301v1.8M558.22 410.5v-1.8M558.22 301v1.8M567.6 410.5v-1.8M567.6 301v1.8M576.99 410.5v-3.8M576.99 301v3.8M586.38 410.5v-1.8M586.38 301v1.8M595.77 410.5v-1.8M595.77 301v1.8M605.16 410.5v-1.8M605.16 301v1.8M614.55 410.5v-1.8M614.55 301v1.8M623.94 410.5v-3.8M623.94 301v3.8M633.32 410.5v-1.8M633.32 301v1.8M642.71 410.5v-1.8M642.71 301v1.8M652.1 410.5v-1.8M652.1 301v1.8M661.49 410.5v-1.8M661.49 301v1.8M670.88 410.5v-3.8M670.88 301v3.8M680.27 410.5v-1.8M680.27 301v1.8M689.66 410.5v-1.8M689.66 301v1.8M699.05 410.5v-1.8M699.05 301v1.8M708.43 410.5v-1.8M708.43 301v1.8M717.82 410.5v-3.8M717.82 301v3.8M727.21 410.5v-1.8M727.21 301v1.8M736.6 410.5v-1.8M736.6 301v1.8M487.8 410.5h1.8M736.6 410.5h-1.8M487.8 405.68h1.8M736.6 405.68h-1.8M487.8 402.26h1.8M736.6 402.26h-1.8M487.8 399.61h1.8M736.6 399.61h-1.8M487.8 397.44h1.8M736.6 397.44h-1.8M487.8 395.61h1.8M736.6 395.61h-1.8M487.8 394.02h1.8M736.6 394.02h-1.8M487.8 392.62h1.8M736.6 392.62h-1.8M487.8 391.37h3.8M736.6 391.37h-3.8M487.8 383.12h1.8M736.6 383.12h-1.8M487.8 378.3h1.8M736.6 378.3h-1.8M487.8 374.88h1.8M736.6 374.88h-1.8M487.8 372.23h1.8M736.6 372.23h-1.8M487.8 370.06h1.8M736.6 370.06h-1.8M487.8 368.23h1.8M736.6 368.23h-1.8M487.8 366.64h1.8M736.6 366.64h-1.8M487.8 365.24h1.8M736.6 365.24h-1.8M487.8 363.99h3.8M736.6 363.99h-3.8M487.8 355.75h1.8M736.6 355.75h-1.8M487.8 350.93h1.8M736.6 350.93h-1.8M487.8 347.51h1.8M736.6 347.51h-1.8M487.8 344.86h1.8M736.6 344.86h-1.8M487.8 342.69h1.8M736.6 342.69h-1.8M487.8 340.86h1.8M736.6 340.86h-1.8M487.8 339.27h1.8M736.6 339.27h-1.8M487.8 337.87h1.8M736.6 337.87h-1.8M487.8 336.62h3.8M736.6 336.62h-3.8M487.8 328.38h1.8M736.6 328.38h-1.8M487.8 323.55h1.8M736.6 323.55h-1.8M487.8 320.13h1.8M736.6 320.13h-1.8M487.8 317.48h1.8M736.6 317.48h-1.8M487.8 315.31h1.8M736.6 315.31h-1.8M487.8 313.48h1.8M736.6 313.48h-1.8M487.8 311.89h1.8M736.6 311.89h-1.8M487.8 310.49h1.8M736.6 310.49h-1.8M487.8 309.24h3.8M736.6 309.24h-3.8M487.8 301h1.8M736.6 301h-1.8" stroke="#000" stroke-width="0.5" fill="none"/>
<g clip-path="url(#cf)" fill="none" stroke-linejoin="round">
<path d="M492.49 331.49h18.78M492.49 329.39v4.2M511.27 329.39v4.2M511.27 334.78h18.78M511.27 332.68v4.2M530.05 332.68v4.2M530.05 336.66h18.78M530.05 334.56v4.2M548.83 334.56v4.2M548.83 337.76h18.78M548.83 335.66v4.2M567.6 335.66v4.2M567.6 340.58h18.78M567.6 338.48v4.2M586.38 338.48v4.2M586.38 344.18h18.78M586.38 342.08v4.2M605.16 342.08v4.2M605.16 347.31h18.78M605.16 345.21v4.2M623.94 345.21v4.2M623.94 353.89h37.55M623.94 351.79v4.2M661.49 351.79v4.2M661.49 364.07h37.55M661.49 361.97v4.2M699.05 361.97v4.2M699.05 375.82h37.55M699.05 373.72v4.2M736.6 373.72v4.2" stroke="#000" stroke-width="0.55"/>
<circle cx="501.79" cy="331.49" r="2.65" fill="#000" stroke="none"/>
<circle cx="520.12" cy="334.78" r="2.65" fill="#000" stroke="none"/>
<circle cx="538.29" cy="336.66" r="2.65" fill="#000" stroke="none"/>
<circle cx="559.43" cy="337.76" r="2.65" fill="#000" stroke="none"/>
<circle cx="577.28" cy="340.58" r="2.65" fill="#000" stroke="none"/>
<circle cx="595.76" cy="344.18" r="2.65" fill="#000" stroke="none"/>
<circle cx="614.79" cy="347.31" r="2.65" fill="#000" stroke="none"/>
<circle cx="642.67" cy="353.89" r="2.65" fill="#000" stroke="none"/>
<circle cx="679.48" cy="364.07" r="2.65" fill="#000" stroke="none"/>
<circle cx="717.07" cy="375.82" r="2.65" fill="#000" stroke="none"/>
<path d="M487.86 349.19 L497.25 354.2 L506.65 349.66 L516.05 352.01 L525.44 353.11 L534.84 350.76 L544.24 353.89 L553.63 356.24 L563.03 350.44 L572.43 354.67 L581.83 358.9 L591.22 362.82 L600.62 362.82 L610.02 362.5 L619.34 366.11 L628.73 364.54 L638.13 372.68 L647.53 380.83 L656.92 374.25 L666.32 379.73 L675.72 393.51 L685.12 388.82 L694.51 386 L703.91 386.47 L713.31 403.22 L722.7 395.86 L732.1 404.01" stroke="#ff0000" stroke-width="1.3"/>
<path d="M487.86 330.08 L497.25 334 L506.65 333.53 L516.05 335.1 L525.44 334.78 L534.84 334.31 L544.24 335.88 L553.63 338.54 L563.03 341.36 L572.43 341.83 L581.83 346.06 L591.22 344.49 L600.62 346.06 L610.02 350.44 L619.34 352.32 L628.73 357.81 L638.13 355.46 L647.53 361.41 L656.92 366.73 L666.32 366.73 L675.72 367.99 L685.12 372.68 L694.51 371.9 L703.91 393.51 L713.31 382.86 L722.7 386.78 L732.1 395.86 L736.64 399.31" stroke="#228b22" stroke-width="1.7" stroke-dasharray="11.2 5.9" stroke-dashoffset="1"/>
<path d="M487.86 328.05 L497.25 331.96 L506.65 331.18 L516.05 332.75 L525.44 332.28 L534.84 331.65 L544.24 333.22 L553.63 335.88 L563.03 336.66 L572.43 338.23 L581.83 342.14 L591.22 341.67 L600.62 343.71 L610.02 347.94 L619.34 349.97 L628.73 352.79 L638.13 353.11 L647.53 358.59 L656.92 362.03 L666.32 363.29 L675.72 365.64 L685.12 370.02 L694.51 368.77 L703.91 380.98 L713.31 379.73 L722.7 381.77 L732.1 390.69 L736.64 396.96" stroke="#0000ff" stroke-width="2.35"/>
</g>
<rect x="487.8" y="301" width="248.8" height="109.5" fill="none" stroke="#000" stroke-width="1"/>
<text x="481.6" y="313.54" text-anchor="end">10<tspan dy="-4.9" dx="-0.5" font-size="8.5" letter-spacing="-0.3">-1</tspan></text>
<text x="481.6" y="340.92" text-anchor="end">10<tspan dy="-4.9" dx="-0.5" font-size="8.5" letter-spacing="-0.3">-2</tspan></text>
<text x="481.6" y="368.29" text-anchor="end">10<tspan dy="-4.9" dx="-0.5" font-size="8.5" letter-spacing="-0.3">-3</tspan></text>
<text x="481.6" y="395.67" text-anchor="end">10<tspan dy="-4.9" dx="-0.5" font-size="8.5" letter-spacing="-0.3">-4</tspan></text>
<text transform="translate(450.3 355.75) rotate(-90)" text-anchor="middle">dN/(d<tspan dy="-4.6" font-size="8.3">2</tspan><tspan dy="4.6">p</tspan><tspan dy="3.1" font-size="8.3">T</tspan><tspan dy="-3.1">dy) [GeV</tspan><tspan dy="-4.6" font-size="8.3">-2</tspan><tspan dy="4.6">]</tspan></text>
<text x="506.9" y="387.4" font-size="10.42">f) Au<tspan font-size="8.2" dx="0.65" dy="-0.3">+</tspan><tspan dx="0.65" dy="0.3">Au</tspan> 39.0 GeV , 0-10%</text>
</g>
<g id="pg">
<path d="M118.8 541.4v-1.8M118.8 431.5v1.8M128.21 541.4v-1.8M128.21 431.5v1.8M137.61 541.4v-1.8M137.61 431.5v1.8M147.01 541.4v-1.8M147.01 431.5v1.8M156.42 541.4v-3.8M156.42 431.5v3.8M165.82 541.4v-1.8M165.82 431.5v1.8M175.22 541.4v-1.8M175.22 431.5v1.8M184.63 541.4v-1.8M184.63 431.5v1.8M194.03 541.4v-1.8M194.03 431.5v1.8M203.44 541.4v-3.8M203.44 431.5v3.8M212.84 541.4v-1.8M212.84 431.5v1.8M222.24 541.4v-1.8M222.24 431.5v1.8M231.65 541.4v-1.8M231.65 431.5v1.8M241.05 541.4v-1.8M241.05 431.5v1.8M250.45 541.4v-3.8M250.45 431.5v3.8M259.86 541.4v-1.8M259.86 431.5v1.8M269.26 541.4v-1.8M269.26 431.5v1.8M278.67 541.4v-1.8M278.67 431.5v1.8M288.07 541.4v-1.8M288.07 431.5v1.8M297.47 541.4v-3.8M297.47 431.5v3.8M306.88 541.4v-1.8M306.88 431.5v1.8M316.28 541.4v-1.8M316.28 431.5v1.8M325.68 541.4v-1.8M325.68 431.5v1.8M335.09 541.4v-1.8M335.09 431.5v1.8M344.49 541.4v-3.8M344.49 431.5v3.8M353.9 541.4v-1.8M353.9 431.5v1.8M363.3 541.4v-1.8M363.3 431.5v1.8M114.1 538h1.8M363.3 538h-1.8M114.1 535.25h1.8M363.3 535.25h-1.8M114.1 533.12h1.8M363.3 533.12h-1.8M114.1 531.38h1.8M363.3 531.38h-1.8M114.1 529.91h1.8M363.3 529.91h-1.8M114.1 528.63h1.8M363.3 528.63h-1.8M114.1 527.51h1.8M363.3 527.51h-1.8M114.1 526.5h3.8M363.3 526.5h-3.8M114.1 519.89h1.8M363.3 519.89h-1.8M114.1 516.02h1.8M363.3 516.02h-1.8M114.1 513.27h1.8M363.3 513.27h-1.8M114.1 511.14h1.8M363.3 511.14h-1.8M114.1 509.4h1.8M363.3 509.4h-1.8M114.1 507.93h1.8M363.3 507.93h-1.8M114.1 506.65h1.8M363.3 506.65h-1.8M114.1 505.53h1.8M363.3 505.53h-1.8M114.1 504.52h3.8M363.3 504.52h-3.8M114.1 497.91h1.8M363.3 497.91h-1.8M114.1 494.04h1.8M363.3 494.04h-1.8M114.1 491.29h1.8M363.3 491.29h-1.8M114.1 489.16h1.8M363.3 489.16h-1.8M114.1 487.42h1.8M363.3 487.42h-1.8M114.1 485.95h1.8M363.3 485.95h-1.8M114.1 484.67h1.8M363.3 484.67h-1.8M114.1 483.55h1.8M363.3 483.55h-1.8M114.1 482.54h3.8M363.3 482.54h-3.8M114.1 475.93h1.8M363.3 475.93h-1.8M114.1 472.06h1.8M363.3 472.06h-1.8M114.1 469.31h1.8M363.3 469.31h-1.8M114.1 467.18h1.8M363.3 467.18h-1.8M114.1 465.44h1.8M363.3 465.44h-1.8M114.1 463.97h1.8M363.3 463.97h-1.8M114.1 462.69h1.8M363.3 462.69h-1.8M114.1 461.57h1.8M363.3 461.57h-1.8M114.1 460.56h3.8M363.3 460.56h-3.8M114.1 453.95h1.8M363.3 453.95h-1.8M114.1 450.08h1.8M363.3 450.08h-1.8M114.1 447.33h1.8M363.3 447.33h-1.8M114.1 445.2h1.8M363.3 445.2h-1.8M114.1 443.46h1.8M363.3 443.46h-1.8M114.1 441.99h1.8M363.3 441.99h-1.8M114.1 440.71h1.8M363.3 440.71h-1.8M114.1 439.59h1.8M363.3 439.59h-1.8M114.1 438.58h3.8M363.3 438.58h-3.8M114.1 431.97h1.8M363.3 431.97h-1.8" stroke="#000" stroke-width="0.5" fill="none"/>
<g clip-path="url(#cg)" fill="none" stroke-linejoin="round">
<path d="M118.8 458.36h18.81M118.8 456.26v4.2M137.61 456.26v4.2M137.61 460.4h18.81M137.61 458.3v4.2M156.42 458.3v4.2M156.42 462.75h18.81M156.42 460.65v4.2M175.22 460.65v4.2M175.22 464.63h18.81M175.22 462.53v4.2M194.03 462.53v4.2M194.03 466.35h18.81M194.03 464.25v4.2M212.84 464.25v4.2M212.84 467.91h18.81M212.84 465.81v4.2M231.65 465.81v4.2M231.65 471.36h18.81M231.65 469.26v4.2M250.45 469.26v4.2M250.45 475.75h37.62M250.45 473.65v4.2M288.07 473.65v4.2M288.07 483.58h37.62M288.07 481.48v4.2M325.68 481.48v4.2M325.68 492.5h37.62M325.68 490.4v4.2M363.3 490.4v4.2" stroke="#000" stroke-width="0.55"/>
<circle cx="128.01" cy="458.36" r="2.65" fill="#000" stroke="none"/>
<circle cx="146.81" cy="460.4" r="2.65" fill="#000" stroke="none"/>
<circle cx="164.82" cy="462.75" r="2.65" fill="#000" stroke="none"/>
<circle cx="185.65" cy="464.63" r="2.65" fill="#000" stroke="none"/>
<circle cx="203.5" cy="466.35" r="2.65" fill="#000" stroke="none"/>
<circle cx="222.29" cy="467.91" r="2.65" fill="#000" stroke="none"/>
<circle cx="241.01" cy="471.36" r="2.65" fill="#000" stroke="none"/>
<circle cx="269.2" cy="475.75" r="2.65" fill="#000" stroke="none"/>
<circle cx="305.69" cy="483.58" r="2.65" fill="#000" stroke="none"/>
<circle cx="343.28" cy="492.5" r="2.65" fill="#000" stroke="none"/>
<path d="M114.39 479.97 L123.78 471.36 L133.18 475.28 L142.58 472.46 L151.97 474.18 L161.37 474.81 L170.77 476.37 L180.16 479.66 L189.56 477.31 L198.96 475.59 L208.36 478.88 L217.75 481.85 L227.15 481.85 L236.55 482.79 L246.02 483.89 L255.42 488.12 L264.82 490.94 L274.21 490.62 L283.61 489.37 L293.01 505.82 L302.41 496.42 L311.8 495.64 L321.2 498.77 L330.6 510.98 L339.99 504.56 L349.39 502.68" stroke="#ff0000" stroke-width="1.3"/>
<path d="M114.39 459.61 L123.78 460.71 L133.18 461.18 L142.58 461.18 L151.97 463.22 L161.37 464.78 L170.77 463.84 L180.16 466.66 L189.56 467.44 L198.96 466.66 L208.36 469.48 L217.75 471.05 L227.15 473.71 L236.55 474.18 L246.02 474.81 L255.42 477.31 L264.82 479.66 L274.21 481.54 L283.61 483.89 L293.01 483.11 L302.41 491.72 L311.8 488.59 L321.2 494.07 L330.6 498.77 L339.99 501.9 L349.39 500.33 L358.79 507.07" stroke="#228b22" stroke-width="1.7" stroke-dasharray="11.2 5.9" stroke-dashoffset="1"/>
<path d="M114.39 458.52 L123.78 458.05 L133.18 458.83 L142.58 458.36 L151.97 460.4 L161.37 461.96 L170.77 461.96 L180.16 465.1 L189.56 464.78 L198.96 464.31 L208.36 466.66 L217.75 468.23 L227.15 470.58 L236.55 470.89 L246.02 472.14 L255.42 474.81 L264.82 477.16 L274.21 478.41 L283.61 479.97 L293.01 482.32 L302.41 487.34 L311.8 484.67 L321.2 490.15 L330.6 495.95 L339.99 496.42 L349.39 494.85 L358.79 507.07 L363.64 505.03" stroke="#0000ff" stroke-width="2.35"/>
</g>
<rect x="114.1" y="431.5" width="249.2" height="109.9" fill="none" stroke="#000" stroke-width="1"/>
<text x="107.6" y="442.58" text-anchor="end">10<tspan dy="-4.9" dx="-0.5" font-size="8.5" letter-spacing="-0.3">-1</tspan></text>
<text x="107.6" y="464.56" text-anchor="end">10<tspan dy="-4.9" dx="-0.5" font-size="8.5" letter-spacing="-0.3">-2</tspan></text>
<text x="107.6" y="486.54" text-anchor="end">10<tspan dy="-4.9" dx="-0.5" font-size="8.5" letter-spacing="-0.3">-3</tspan></text>
<text x="107.6" y="508.52" text-anchor="end">10<tspan dy="-4.9" dx="-0.5" font-size="8.5" letter-spacing="-0.3">-4</tspan></text>
<text x="107.6" y="530.5" text-anchor="end">10<tspan dy="-4.9" dx="-0.5" font-size="8.5" letter-spacing="-0.3">-5</tspan></text>
<text transform="translate(76.6 486.45) rotate(-90)" text-anchor="middle">dN/(d<tspan dy="-4.6" font-size="8.3">2</tspan><tspan dy="4.6">p</tspan><tspan dy="3.1" font-size="8.3">T</tspan><tspan dy="-3.1">dy) [GeV</tspan><tspan dy="-4.6" font-size="8.3">-2</tspan><tspan dy="4.6">]</tspan></text>
<text x="133.2" y="520.9" font-size="10.42">g) Au<tspan font-size="8.2" dx="0.65" dy="-0.3">+</tspan><tspan dx="0.65" dy="0.3">Au</tspan> 62.4 GeV , 0-10%</text>
<text x="156.82" y="555.6" text-anchor="middle">1.0</text>
<text x="203.84" y="555.6" text-anchor="middle">1.5</text>
<text x="250.85" y="555.6" text-anchor="middle">2.0</text>
<text x="297.87" y="555.6" text-anchor="middle">2.5</text>
<text x="344.89" y="555.6" text-anchor="middle">3.0</text>
<text x="238.7" y="569.8" text-anchor="middle">p<tspan dy="2.8" font-size="8.3">T</tspan><tspan dy="-2.8"> [GeV]</tspan></text>
</g>
<g id="ph">
<path d="M492.49 541.4v-1.8M492.49 431.5v1.8M501.88 541.4v-1.8M501.88 431.5v1.8M511.27 541.4v-1.8M511.27 431.5v1.8M520.66 541.4v-1.8M520.66 431.5v1.8M530.05 541.4v-3.8M530.05 431.5v3.8M539.44 541.4v-1.8M539.44 431.5v1.8M548.83 541.4v-1.8M548.83 431.5v1.8M558.22 541.4v-1.8M558.22 431.5v1.8M567.6 541.4v-1.8M567.6 431.5v1.8M576.99 541.4v-3.8M576.99 431.5v3.8M586.38 541.4v-1.8M586.38 431.5v1.8M595.77 541.4v-1.8M595.77 431.5v1.8M605.16 541.4v-1.8M605.16 431.5v1.8M614.55 541.4v-1.8M614.55 431.5v1.8M623.94 541.4v-3.8M623.94 431.5v3.8M633.32 541.4v-1.8M633.32 431.5v1.8M642.71 541.4v-1.8M642.71 431.5v1.8M652.1 541.4v-1.8M652.1 431.5v1.8M661.49 541.4v-1.8M661.49 431.5v1.8M670.88 541.4v-3.8M670.88 431.5v3.8M680.27 541.4v-1.8M680.27 431.5v1.8M689.66 541.4v-1.8M689.66 431.5v1.8M699.05 541.4v-1.8M699.05 431.5v1.8M708.43 541.4v-1.8M708.43 431.5v1.8M717.82 541.4v-3.8M717.82 431.5v3.8M727.21 541.4v-1.8M727.21 431.5v1.8M736.6 541.4v-1.8M736.6 431.5v1.8M487.8 538h1.8M736.6 538h-1.8M487.8 535.25h1.8M736.6 535.25h-1.8M487.8 533.12h1.8M736.6 533.12h-1.8M487.8 531.38h1.8M736.6 531.38h-1.8M487.8 529.91h1.8M736.6 529.91h-1.8M487.8 528.63h1.8M736.6 528.63h-1.8M487.8 527.51h1.8M736.6 527.51h-1.8M487.8 526.5h3.8M736.6 526.5h-3.8M487.8 519.89h1.8M736.6 519.89h-1.8M487.8 516.02h1.8M736.6 516.02h-1.8M487.8 513.27h1.8M736.6 513.27h-1.8M487.8 511.14h1.8M736.6 511.14h-1.8M487.8 509.4h1.8M736.6 509.4h-1.8M487.8 507.93h1.8M736.6 507.93h-1.8M487.8 506.65h1.8M736.6 506.65h-1.8M487.8 505.53h1.8M736.6 505.53h-1.8M487.8 504.52h3.8M736.6 504.52h-3.8M487.8 497.91h1.8M736.6 497.91h-1.8M487.8 494.04h1.8M736.6 494.04h-1.8M487.8 491.29h1.8M736.6 491.29h-1.8M487.8 489.16h1.8M736.6 489.16h-1.8M487.8 487.42h1.8M736.6 487.42h-1.8M487.8 485.95h1.8M736.6 485.95h-1.8M487.8 484.67h1.8M736.6 484.67h-1.8M487.8 483.55h1.8M736.6 483.55h-1.8M487.8 482.54h3.8M736.6 482.54h-3.8M487.8 475.93h1.8M736.6 475.93h-1.8M487.8 472.06h1.8M736.6 472.06h-1.8M487.8 469.31h1.8M736.6 469.31h-1.8M487.8 467.18h1.8M736.6 467.18h-1.8M487.8 465.44h1.8M736.6 465.44h-1.8M487.8 463.97h1.8M736.6 463.97h-1.8M487.8 462.69h1.8M736.6 462.69h-1.8M487.8 461.57h1.8M736.6 461.57h-1.8M487.8 460.56h3.8M736.6 460.56h-3.8M487.8 453.95h1.8M736.6 453.95h-1.8M487.8 450.08h1.8M736.6 450.08h-1.8M487.8 447.33h1.8M736.6 447.33h-1.8M487.8 445.2h1.8M736.6 445.2h-1.8M487.8 443.46h1.8M736.6 443.46h-1.8M487.8 441.99h1.8M736.6 441.99h-1.8M487.8 440.71h1.8M736.6 440.71h-1.8M487.8 439.59h1.8M736.6 439.59h-1.8M487.8 438.58h3.8M736.6 438.58h-3.8M487.8 431.97h1.8M736.6 431.97h-1.8" stroke="#000" stroke-width="0.5" fill="none"/>
<g clip-path="url(#ch)" fill="none" stroke-linejoin="round">
<path d="M492.49 461.18h18.78M492.49 459.08v4.2M511.27 459.08v4.2M511.27 464.78h18.78M511.27 462.68v4.2M530.05 462.68v4.2M530.05 467.13h18.78M530.05 465.03v4.2M548.83 465.03v4.2M548.83 469.01h18.78M548.83 466.91v4.2M567.6 466.91v4.2M567.6 470.58h18.78M567.6 468.48v4.2M586.38 468.48v4.2M586.38 471.83h18.78M586.38 469.73v4.2M605.16 469.73v4.2M605.16 474.18h18.78M605.16 472.08v4.2M623.94 472.08v4.2M623.94 477.62h37.55M623.94 475.52v4.2M661.49 475.52v4.2M661.49 483.58h37.55M661.49 481.48v4.2M699.05 481.48v4.2M699.05 490.62h37.55M699.05 488.52v4.2M736.6 488.52v4.2" stroke="#000" stroke-width="0.55"/>
<circle cx="501.79" cy="461.18" r="2.65" fill="#000" stroke="none"/>
<circle cx="520.12" cy="464.78" r="2.65" fill="#000" stroke="none"/>
<circle cx="538.29" cy="467.13" r="2.65" fill="#000" stroke="none"/>
<circle cx="557.08" cy="469.01" r="2.65" fill="#000" stroke="none"/>
<circle cx="578.07" cy="470.58" r="2.65" fill="#000" stroke="none"/>
<circle cx="595.76" cy="471.83" r="2.65" fill="#000" stroke="none"/>
<circle cx="614.48" cy="474.18" r="2.65" fill="#000" stroke="none"/>
<circle cx="642.67" cy="477.62" r="2.65" fill="#000" stroke="none"/>
<circle cx="680.26" cy="483.58" r="2.65" fill="#000" stroke="none"/>
<circle cx="717.07" cy="490.62" r="2.65" fill="#000" stroke="none"/>
<path d="M487.86 484.67 L497.25 477.62 L506.65 485.46 L516.05 481.54 L525.44 481.07 L534.84 476.84 L544.24 474.96 L553.63 477.31 L563.03 478.88 L572.43 481.54 L581.83 482.01 L591.22 480.44 L600.62 478.72 L610.02 479.5 L619.34 477.94 L628.73 480.76 L638.13 483.11 L647.53 484.36 L656.92 486.24 L666.32 488.9 L675.72 499.86 L685.12 486.24 L694.51 491.41 L703.91 491.41 L713.31 501.43 L722.7 512.08 L732.1 499.24 L736.64 498.77" stroke="#ff0000" stroke-width="1.3"/>
<path d="M487.86 464.31 L497.25 465.41 L506.65 463.22 L516.05 465.41 L525.44 463.84 L534.84 466.66 L544.24 467.13 L553.63 466.66 L563.03 469.48 L572.43 468.7 L581.83 470.11 L591.22 470.58 L600.62 469.79 L610.02 472.14 L619.34 472.93 L628.73 472.93 L638.13 471.67 L647.53 475.28 L656.92 477.94 L666.32 477.94 L675.72 481.54 L685.12 485.46 L694.51 490.94 L703.91 483.11 L713.31 491.41 L722.7 497.2 L732.1 492.5 L736.64 495.64" stroke="#228b22" stroke-width="1.7" stroke-dasharray="11.2 5.9" stroke-dashoffset="1"/>
<path d="M487.86 463.22 L497.25 463.22 L506.65 462.28 L516.05 464.31 L525.44 462.28 L534.84 464.78 L544.24 463.84 L553.63 463.22 L563.03 466.35 L572.43 465.88 L581.83 467.13 L591.22 467.13 L600.62 466.66 L610.02 468.54 L619.34 467.91 L628.73 469.48 L638.13 469.01 L647.53 472.14 L656.92 474.49 L666.32 475.28 L675.72 480.76 L685.12 479.19 L694.51 484.36 L703.91 479.66 L713.31 488.59 L722.7 496.42 L732.1 488.59 L736.64 490.15" stroke="#0000ff" stroke-width="2.35"/>
</g>
<rect x="487.8" y="431.5" width="248.8" height="109.9" fill="none" stroke="#000" stroke-width="1"/>
<text x="481.6" y="442.58" text-anchor="end">10<tspan dy="-4.9" dx="-0.5" font-size="8.5" letter-spacing="-0.3">-1</tspan></text>
<text x="481.6" y="464.56" text-anchor="end">10<tspan dy="-4.9" dx="-0.5" font-size="8.5" letter-spacing="-0.3">-2</tspan></text>
<text x="481.6" y="486.54" text-anchor="end">10<tspan dy="-4.9" dx="-0.5" font-size="8.5" letter-spacing="-0.3">-3</tspan></text>
<text x="481.6" y="508.52" text-anchor="end">10<tspan dy="-4.9" dx="-0.5" font-size="8.5" letter-spacing="-0.3">-4</tspan></text>
<text x="481.6" y="530.5" text-anchor="end">10<tspan dy="-4.9" dx="-0.5" font-size="8.5" letter-spacing="-0.3">-5</tspan></text>
<text transform="translate(450.3 486.45) rotate(-90)" text-anchor="middle">dN/(d<tspan dy="-4.6" font-size="8.3">2</tspan><tspan dy="4.6">p</tspan><tspan dy="3.1" font-size="8.3">T</tspan><tspan dy="-3.1">dy) [GeV</tspan><tspan dy="-4.6" font-size="8.3">-2</tspan><tspan dy="4.6">]</tspan></text>
<text x="506.9" y="520.9" font-size="10.42">h) Au<tspan font-size="8.2" dx="0.65" dy="-0.3">+</tspan><tspan dx="0.65" dy="0.3">Au</tspan> 200.0 GeV , 0-10%</text>
<text x="530.45" y="555.6" text-anchor="middle">1.0</text>
<text x="577.39" y="555.6" text-anchor="middle">1.5</text>
<text x="624.34" y="555.6" text-anchor="middle">2.0</text>
<text x="671.28" y="555.6" text-anchor="middle">2.5</text>
<text x="718.22" y="555.6" text-anchor="middle">3.0</text>
<text x="612.2" y="569.8" text-anchor="middle">p<tspan dy="2.8" font-size="8.3">T</tspan><tspan dy="-2.8"> [GeV]</tspan></text>
</g>
</svg>
</body></html>
